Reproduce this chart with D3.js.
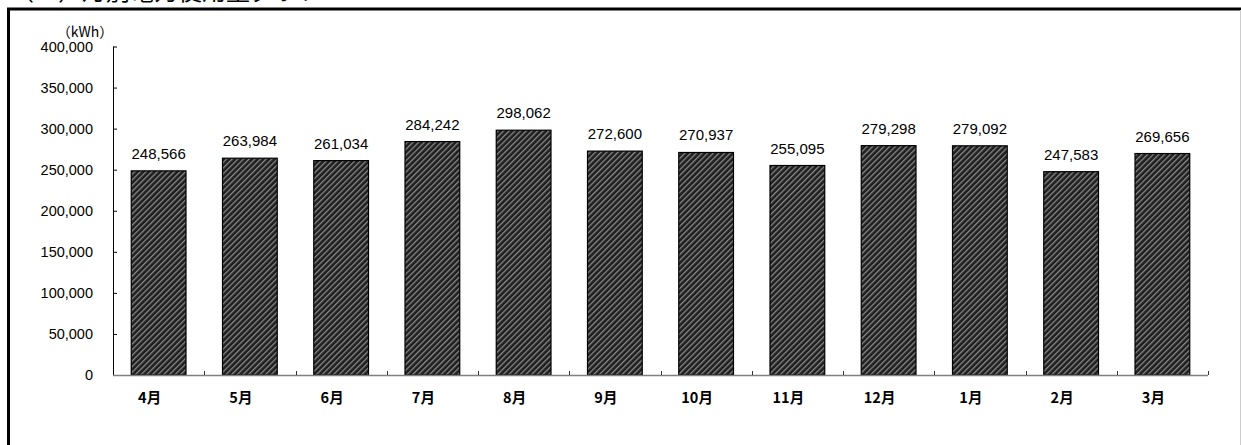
<!DOCTYPE html>
<html><head><meta charset="utf-8">
<script src="https://cdn.jsdelivr.net/npm/d3@7/dist/d3.min.js"></script>
<style>body{margin:0;background:#fff}svg{display:block}</style>
</head><body>
<svg id="c" width="1241" height="445"></svg>
<script>
const categories = ["4月","5月","6月","7月","8月","9月","10月","11月","12月","1月","2月","3月"];
const values = [248566,263984,261034,284242,298062,272600,270937,255095,279298,279092,247583,269656];
const yTicks = [0,50000,100000,150000,200000,250000,300000,350000,400000];
const unitLabel = "（kWh）";
const title = "（１）月別電力使用量グラフ";

const svg = d3.select("#c");
const font = "'Liberation Sans', Arial, sans-serif";

// pattern
const defs = svg.append("defs");
const pat = defs.append("pattern").attr("id","hatch").attr("patternUnits","userSpaceOnUse")
  .attr("width",4).attr("height",4).attr("patternTransform","rotate(45)");
pat.append("rect").attr("width",4).attr("height",4).attr("fill","#1e1e1e");
pat.append("rect").attr("x",0).attr("width",1.3).attr("height",4).attr("fill","#8a8a8a");

// title (cut off at top, as in the reference)
svg.append("text").attr("x",10).attr("y",0).attr("font-family","'Noto Sans CJK JP', sans-serif")
  .attr("font-size",24).attr("fill","#000").text(title);

// frame
svg.append("rect").attr("x",8.5).attr("y",9).attr("width",1240).attr("height",500)
  .attr("fill","none").attr("stroke","#000").attr("stroke-width",3);
svg.append("line").attr("x1",1240.5).attr("x2",1240.5).attr("y1",10).attr("y2",445).attr("stroke","#ccc");

const x0 = 113, x1 = 1208, yTop = 46.5, yBot = 375;
const x = d3.scaleBand().domain(categories).range([x0,x1]).padding(0);
const y = d3.scaleLinear().domain([0,400000]).range([yBot,yTop]);
const barW = x.bandwidth()*0.6;

// bars
svg.append("g").selectAll("rect").data(values).join("rect")
  .attr("x",(d,i)=>x(categories[i])+x.bandwidth()/2-barW/2)
  .attr("y",d=>y(d)).attr("width",barW).attr("height",d=>yBot-y(d))
  .attr("fill","url(#hatch)").attr("stroke","#000").attr("stroke-width",1.2);

// y axis
const yAxis = d3.axisRight(y).tickValues(yTicks).tickSize(4).tickFormat("");
const gy = svg.append("g").attr("transform",`translate(${x0},0)`).call(yAxis);
gy.select(".domain").attr("stroke","#000").attr("d",`M0.5,${yTop}V${yBot}`);
gy.selectAll(".tick line").attr("stroke","#000");
svg.append("g").selectAll("text").data(yTicks).join("text")
  .attr("x",93).attr("y",d=>y(d)).attr("dy","0.36em").attr("text-anchor","end")
  .attr("font-family",font).attr("font-size",14.5).attr("fill","#000").text(d=>d3.format(",")(d));

// x axis
svg.append("line").attr("x1",x0).attr("x2",x1).attr("y1",yBot+0.5).attr("y2",yBot+0.5).attr("stroke","#808080").attr("stroke-width",1.5);
const bounds = categories.map(c=>x(c)+x.bandwidth());
svg.append("g").selectAll("line").data(bounds).join("line")
  .attr("x1",d=>Math.round(d)+0.5).attr("x2",d=>Math.round(d)+0.5).attr("y1",yBot-4).attr("y2",yBot).attr("stroke","#333");
svg.append("g").selectAll("text").data(categories).join("text")
  .attr("x",d=>x(d)+x.bandwidth()/2-9).attr("y",398).attr("dy","0.36em").attr("text-anchor","middle")
  .attr("font-family","'Noto Sans CJK JP', sans-serif").attr("font-weight","bold").attr("font-size",14.5).attr("fill","#000").text(d=>d);

// value labels
svg.append("g").selectAll("text").data(values).join("text")
  .attr("x",(d,i)=>x(categories[i])+x.bandwidth()/2).attr("y",d=>y(d)-12)
  .attr("text-anchor","middle").attr("font-family",font).attr("font-size",15).attr("fill","#000")
  .text(d=>d3.format(",")(d));

// unit
svg.append("text").attr("x",85).attr("y",32).attr("dy","0.36em").attr("text-anchor","middle")
  .attr("font-family","'Noto Sans CJK JP', sans-serif").attr("font-size",14).attr("fill","#000").text(unitLabel);
</script>
</body></html>
